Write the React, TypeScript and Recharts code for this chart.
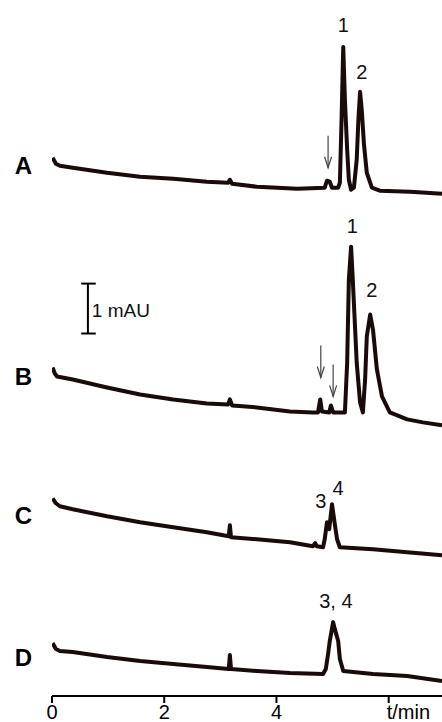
import { LineChart, Line, XAxis, YAxis, ReferenceLine, ReferenceDot } from "recharts";

// electropherograms A-D, signal in mAU above each trace's own baseline level
const timeA = [0.01, 0.07, 0.14, 0.37, 0.98, 1.57, 2.16, 2.76, 3.14, 3.17, 3.21, 3.65, 4.37, 4.86, 4.9, 4.95, 4.99, 5.1, 5.13, 5.16, 5.19, 5.22, 5.26, 5.29, 5.33, 5.38, 5.43, 5.46, 5.49, 5.52, 5.56, 5.61, 5.7, 5.84, 6.38, 6.95];
const signalA = [0.78, 0.66, 0.62, 0.58, 0.48, 0.4, 0.36, 0.3, 0.28, 0.34, 0.26, 0.2, 0.16, 0.18, 0.32, 0.3, 0.18, 0.18, 0.28, 1.54, 3.0, 1.94, 0.94, 0.34, 0.14, 0.18, 0.74, 1.54, 2.1, 1.74, 1.04, 0.48, 0.18, 0.12, 0.1, 0.06];

const timeB = [0.01, 0.05, 0.09, 0.37, 0.98, 1.57, 2.16, 2.76, 3.14, 3.17, 3.21, 3.65, 4.24, 4.65, 4.74, 4.78, 4.81, 4.94, 4.97, 5.01, 5.22, 5.26, 5.29, 5.33, 5.36, 5.43, 5.49, 5.54, 5.58, 5.61, 5.67, 5.72, 5.79, 5.88, 6.02, 6.33, 6.61, 6.95];
const signalB = [1.18, 1.06, 1.0, 0.94, 0.78, 0.64, 0.54, 0.46, 0.44, 0.54, 0.42, 0.38, 0.3, 0.28, 0.28, 0.54, 0.3, 0.28, 0.42, 0.28, 0.28, 1.28, 2.94, 3.6, 2.94, 1.28, 0.48, 0.28, 0.94, 1.8, 2.24, 1.94, 1.14, 0.6, 0.28, 0.14, 0.08, 0.02];

const timeC = [0.01, 0.07, 0.14, 0.37, 0.98, 1.57, 2.16, 2.76, 3.15, 3.17, 3.19, 3.65, 4.24, 4.65, 4.69, 4.72, 4.83, 4.86, 4.9, 4.94, 4.99, 5.04, 5.08, 5.13, 5.72, 6.33, 6.95];
const signalC = [1.26, 1.16, 1.1, 1.04, 0.9, 0.78, 0.68, 0.58, 0.5, 0.72, 0.48, 0.44, 0.38, 0.3, 0.36, 0.3, 0.28, 0.44, 0.78, 0.64, 1.14, 0.74, 0.44, 0.28, 0.24, 0.18, 0.12];

const timeD = [0.01, 0.07, 0.14, 0.37, 0.98, 1.57, 2.16, 2.76, 3.15, 3.17, 3.19, 3.65, 4.24, 4.83, 4.88, 4.92, 4.95, 5.01, 5.04, 5.1, 5.13, 5.19, 5.72, 6.33, 6.95];
const signalD = [0.86, 0.74, 0.7, 0.68, 0.58, 0.5, 0.44, 0.38, 0.34, 0.62, 0.34, 0.3, 0.26, 0.24, 0.34, 0.64, 0.9, 1.28, 1.14, 0.9, 0.54, 0.3, 0.24, 0.2, 0.1];

// vertical offsets of the stacked traces (mAU)
const OFFSET_A = 10;
const OFFSET_B = 5.4;
const OFFSET_C = 2.7;
const OFFSET_D = 0.2;

const traceNames = ["A", "B", "C", "D"];
const traceNameLevels = [10.62, 6.4, 3.62, 0.78];

const timeTicks = [0, 2, 4, 6];

const peakLabels = [
  { t: 5.19, v: 13.44, text: "1" },
  { t: 5.52, v: 12.5, text: "2" },
  { t: 5.35, v: 9.42, text: "1" },
  { t: 5.7, v: 8.14, text: "2" },
  { t: 4.79, v: 3.9, text: "3" },
  { t: 5.1, v: 4.16, text: "4" },
  { t: 5.06, v: 1.9, text: "3, 4" },
];

// arrow tips
const arrows = [
  { t: 4.92, v: 10.58 },
  { t: 4.79, v: 6.38 },
  { t: 5.01, v: 6.0 },
];

const FONT = '"Liberation Sans", Arial, sans-serif';
const INK = "#1a0b0b";

const build = (times: number[], sig: number[], off: number) =>
  times.map((t, i) => ({ t, v: sig[i] + off }));

const TimeTick = (props: any) => {
  const { x, y, payload } = props;
  const isUnit = payload.value === 6;
  return (
    <text
      x={isUnit ? x - 2 : x}
      y={y + 14}
      textAnchor={isUnit ? "start" : "middle"}
      fontSize={20}
      fontFamily={FONT}
      fill="#000"
    >
      {isUnit ? "t/min" : payload.value}
    </text>
  );
};

const PeakText = (text: string) => (p: any) => (
  <text x={p.cx} y={p.cy} textAnchor="middle" dominantBaseline="central" fontSize={20} fontFamily={FONT} fill="#111">
    {text}
  </text>
);

const Arrow = (p: any) => (
  <g stroke="#444" strokeWidth={1.2} fill="none">
    <line x1={p.cx} y1={p.cy - 32} x2={p.cx} y2={p.cy} />
    <path d={`M${p.cx - 3.5},${p.cy - 11} L${p.cx},${p.cy} L${p.cx + 3.5},${p.cy - 11}`} />
  </g>
);

const ScaleText = (p: any) => (
  <text x={p.cx} y={p.cy} dominantBaseline="central" fontSize={19} fontFamily={FONT} fill="#111">
    1 mAU
  </text>
);

export default function App() {
  const dataA = build(timeA, signalA, OFFSET_A);
  const dataB = build(timeB, signalB, OFFSET_B);
  const dataC = build(timeC, signalC, OFFSET_C);
  const dataD = build(timeD, signalD, OFFSET_D);
  const lineStyle = { stroke: INK, strokeWidth: 4, strokeLinejoin: "round" as const };

  return (
    <div style={{ position: "absolute", left: 0, top: 0, background: "#fff" }}>
      <LineChart width={442} height={722} margin={{ top: 0, right: 0, bottom: 0, left: 0 }}>
        <XAxis
          dataKey="t"
          type="number"
          domain={[0, 6.95]}
          ticks={timeTicks}
          interval={0}
          height={26}
          tickSize={7}
          axisLine={{ stroke: "#000", strokeWidth: 2 }}
          tickLine={{ stroke: "#000", strokeWidth: 2 }}
          tick={<TimeTick />}
          allowDataOverflow
        />
        <YAxis
          type="number"
          domain={[0, 13.94]}
          ticks={traceNameLevels}
          interval={0}
          width={52}
          axisLine={false}
          tickLine={false}
          tickSize={0}
          tickMargin={20}
          tickFormatter={(_v: number, i: number) => traceNames[i]}
          tick={{ fontSize: 24, fontWeight: "bold", fill: "#000", fontFamily: FONT }}
          allowDataOverflow
        />
        <Line data={dataA} dataKey="v" type="linear" {...lineStyle} dot={false} isAnimationActive={false} />
        <Line data={dataB} dataKey="v" type="linear" {...lineStyle} dot={false} isAnimationActive={false} />
        <Line data={dataC} dataKey="v" type="linear" {...lineStyle} dot={false} isAnimationActive={false} />
        <Line data={dataD} dataKey="v" type="linear" {...lineStyle} dot={false} isAnimationActive={false} />

        {/* 1 mAU scale bar */}
        <ReferenceLine segment={[{ x: 0.64, y: 7.26 }, { x: 0.64, y: 8.26 }]} stroke="#000" strokeWidth={2} />
        <ReferenceLine segment={[{ x: 0.52, y: 8.26 }, { x: 0.78, y: 8.26 }]} stroke="#000" strokeWidth={2} />
        <ReferenceLine segment={[{ x: 0.52, y: 7.26 }, { x: 0.78, y: 7.26 }]} stroke="#000" strokeWidth={2} />
        <ReferenceDot x={0.71} y={7.72} r={0} shape={ScaleText} ifOverflow="visible" />

        {peakLabels.map((p, i) => (
          <ReferenceDot key={"pk" + i} x={p.t} y={p.v} r={0} shape={PeakText(p.text)} ifOverflow="visible" />
        ))}
        {arrows.map((a, i) => (
          <ReferenceDot key={"ar" + i} x={a.t} y={a.v} r={0} shape={Arrow} ifOverflow="visible" />
        ))}
      </LineChart>
    </div>
  );
}
